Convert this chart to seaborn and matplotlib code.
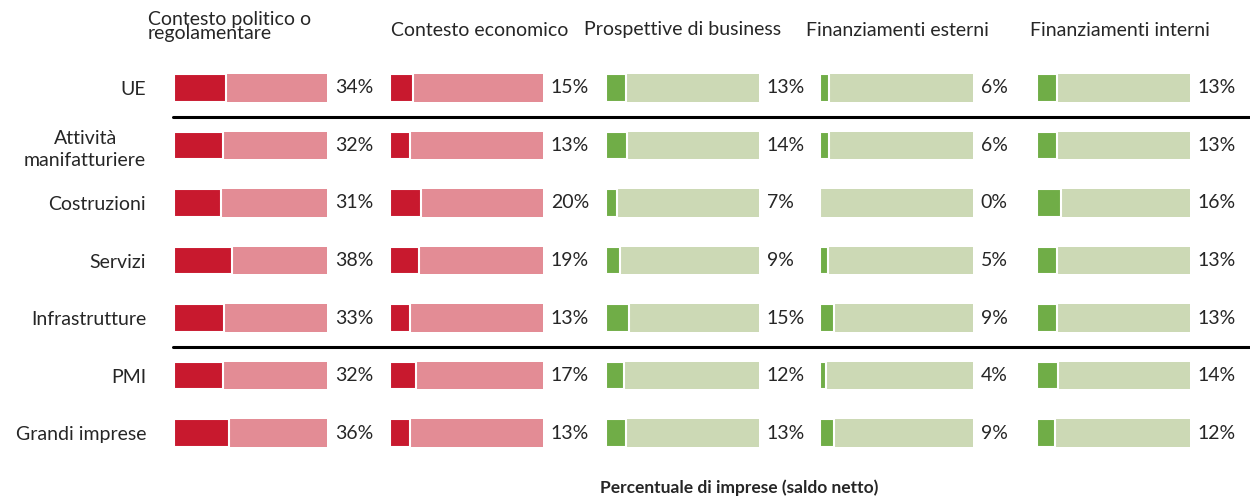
import pandas as pd
import seaborn as sns
import matplotlib.pyplot as plt
from matplotlib.lines import Line2D

# Data
categories = ["UE", "Attività\nmanifatturiere", "Costruzioni", "Servizi",
              "Infrastrutture", "PMI", "Grandi imprese"]
panel_titles = ["Contesto politico o\nregolamentare", "Contesto economico",
                "Prospettive di business", "Finanziamenti esterni",
                "Finanziamenti interni"]
politico = [34, 32, 31, 38, 33, 32, 36]
economico = [15, 13, 20, 19, 13, 17, 13]
prospettive = [13, 14, 7, 9, 15, 12, 13]
fin_esterni = [6, 6, 0, 5, 9, 4, 9]
fin_interni = [13, 13, 16, 13, 13, 14, 12]
total = 100

series = [politico, economico, prospettive, fin_esterni, fin_interni]

# Colours
red_dark, red_light = "#C8192E", "#E38C95"
green_dark, green_light = "#70AD47", "#CCD9B5"
colors = [(red_dark, red_light), (red_dark, red_light),
          (green_dark, green_light), (green_dark, green_light),
          (green_dark, green_light)]

sns.set_style("white")
plt.rcParams['font.family'] = ['Lato', 'DejaVu Sans']

W, H = 1250, 496
fig = plt.figure(figsize=(W / 100, H / 100), dpi=100)

# Axes placement (pixels)
ax_left = [174, 390, 606, 820, 1037]
ax_width = 153
top_px, bottom_px = 59, 462
title_left = [148, 391, 584, 806, 1030]
fs = 14

for i, vals in enumerate(series):
    ax = fig.add_axes([ax_left[i] / W, 1 - bottom_px / H,
                       ax_width / W, (bottom_px - top_px) / H])
    df = pd.DataFrame({"cat": categories, "val": vals, "total": [total] * len(vals)})
    dark, light = colors[i]
    sns.barplot(data=df, x="total", y="cat", color=light, width=0.48,
                saturation=1, edgecolor="white", linewidth=0, ax=ax)
    sns.barplot(data=df, x="val", y="cat", color=dark, width=0.48,
                saturation=1, edgecolor="white", linewidth=1.5, ax=ax)
    ax.set_xlim(0, total)
    ax.set_ylim(len(categories) - 0.5, -0.5)
    ax.set_xlabel("")
    ax.set_ylabel("")
    ax.set_xticks([])
    sns.despine(ax=ax, left=True, bottom=True)

    # value labels
    for j, v in enumerate(vals):
        ax.text(total + 5, j, f"{v}%", va="center", ha="left",
                fontsize=fs, clip_on=False)

    if i == 0:
        ax.tick_params(axis="y", length=0, pad=20, labelsize=fs)
        for lab in ax.get_yticklabels():
            lab.set_multialignment("center")
            lab.set_linespacing(1.35)
    else:
        ax.set_yticks([])

    # panel titles
    if "\n" in panel_titles[i]:
        fig.text(title_left[i] / W, 1 - 11 / H, panel_titles[i], ha="left",
                 va="top", fontsize=fs, linespacing=0.8)
    else:
        fig.text(title_left[i] / W, 1 - 30 / H, panel_titles[i], ha="left",
                 va="center", fontsize=fs)

# separator lines after UE and after Infrastrutture
for y_px in [117, 347]:
    fig.add_artist(Line2D([173 / W, 1], [1 - y_px / H, 1 - y_px / H],
                          color="black", linewidth=2.2))

fig.text(739 / W, 1 - 488 / H, "Percentuale di imprese (saldo netto)",
         ha="center", va="center", fontsize=12.5, fontweight="bold")

fig.savefig("out.png", dpi=100)
